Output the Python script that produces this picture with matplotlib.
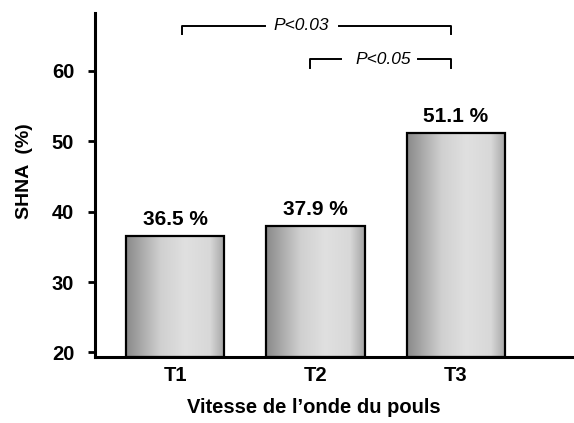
import numpy as np
import matplotlib.pyplot as plt
from matplotlib.colors import LinearSegmentedColormap

plt.rcParams['font.family'] = ['Liberation Sans', 'DejaVu Sans']

categories = ['T1', 'T2', 'T3']
values = [36.5, 37.9, 51.1]
value_labels = ['36.5 %', '37.9 %', '51.1 %']
yticks = [20, 30, 40, 50, 60]
# (left bar, right bar, label, bracket height)
comparisons = [(0, 2, 'P<0.03', 66.4), (1, 2, 'P<0.05', 61.6)]
# bracket ends and where the line is broken for the text (data x)
bracket_x = [(0.05, 1.965), (0.96, 1.965)]
gaps = [(0.64, 1.17, 0.897), (1.18, 1.73, 1.48)]

y0 = 19.4
fig = plt.figure(figsize=(5.74, 4.23), dpi=100)
ax = fig.add_axes([95 / 574, 1 - 356.7 / 423, 479 / 574, 343.7 / 423])

# grey "cylinder" shading, dark on the left, light towards the right
cmap = LinearSegmentedColormap.from_list('cyl', [
    (0.0, '#8a8a8a'), (0.35, '#d0d0d0'), (0.6, '#e0e0e0'),
    (0.85, '#d8d8d8'), (1.0, '#a4a4a4')])
grad = np.linspace(0, 1, 256).reshape(1, -1)

x = np.arange(len(categories))
heights = [v - y0 for v in values]
bars = ax.bar(x, heights, width=0.70, bottom=y0, facecolor='none',
              edgecolor='black', linewidth=1.6, zorder=3)
for b in bars:
    im = ax.imshow(grad, cmap=cmap, aspect='auto', zorder=2,
                   extent=[b.get_x(), b.get_x() + b.get_width(), y0, y0 + b.get_height()])
    im.set_clip_path(b)

for xi, v, lab in zip(x, values, value_labels):
    ax.annotate(lab, (xi, v), xytext=(0, 8), textcoords='offset points',
                ha='center', va='baseline', fontsize=15, fontweight='bold')

# significance brackets
for (i, j, txt, yb), (x0, x1), (g0, g1, xt) in zip(comparisons, bracket_x, gaps):
    ax.plot([x0, x0, g0], [yb - 1.15, yb, yb], color='black', lw=1.4, clip_on=False)
    ax.plot([g1, x1, x1], [yb, yb, yb - 1.15], color='black', lw=1.4, clip_on=False)
    ax.text(xt, yb, txt, ha='center', va='center', fontsize=12.5, style='italic')

ax.set_xlim(-0.57, 2.84)
ax.set_ylim(y0, 68.2)
ax.set_yticks(yticks)
ax.set_xticks(x)
ax.set_xticklabels(categories)
ax.tick_params(axis='y', length=5, width=2, labelsize=14.5, pad=10)
ax.tick_params(axis='x', length=0, labelsize=14.5, pad=7)
for lab in ax.get_xticklabels() + ax.get_yticklabels():
    lab.set_fontweight('bold')

ax.spines['top'].set_visible(False)
ax.spines['right'].set_visible(False)
ax.spines['left'].set_linewidth(2.2)
ax.spines['bottom'].set_linewidth(2.2)

ax.set_xlabel('Vitesse de l\u2019onde du pouls', fontsize=14.5, fontweight='bold')
ax.xaxis.set_label_coords(0.457, -0.12)
ax.set_ylabel('SHNA  (%)', fontsize=14, fontweight='bold')
ax.yaxis.set_label_coords(-0.129, 0.54)

fig.savefig('out.png', dpi=100)
